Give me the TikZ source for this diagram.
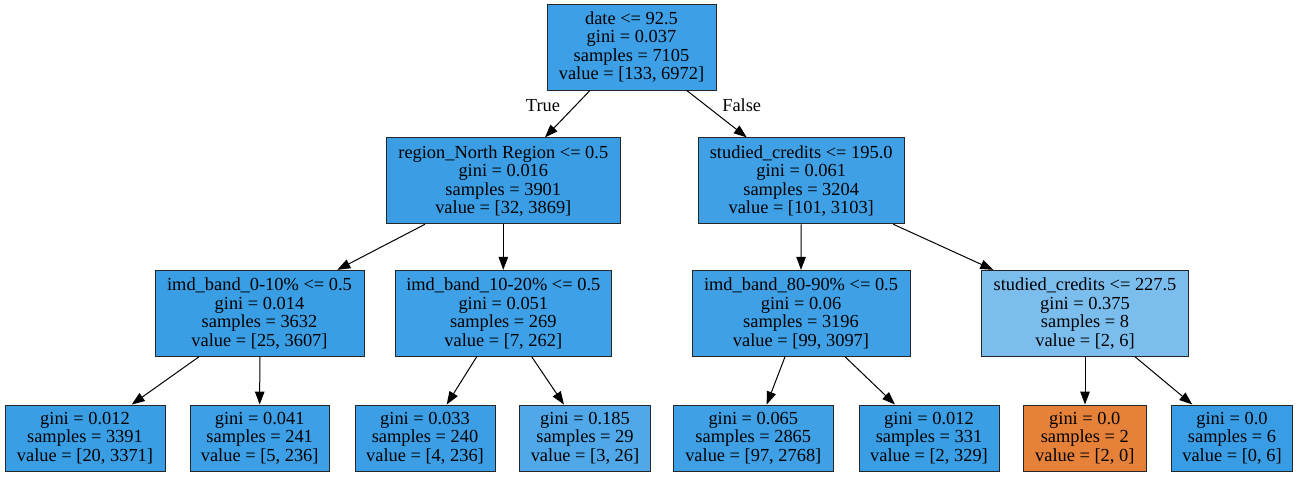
\documentclass[tikz,border=0pt]{standalone}
\usepackage{fontspec}
\setmainfont{Liberation Serif}
\usetikzlibrary{arrows.meta}

% fill colours of the tree nodes (class purity shading)
\definecolor{nA}{RGB}{61,159,230}
\definecolor{nB}{RGB}{59,158,229}
\definecolor{nC}{RGB}{63,160,230}
\definecolor{nD}{RGB}{58,158,229}
\definecolor{nE}{RGB}{62,160,230}
\definecolor{nF}{RGB}{123,190,238}
\definecolor{nG}{RGB}{61,159,230}
\definecolor{nH}{RGB}{60,159,229}
\definecolor{nI}{RGB}{80,168,232}
\definecolor{nJ}{RGB}{64,160,230}
\definecolor{nK}{RGB}{229,129,57}
\definecolor{nL}{RGB}{57,157,229}

\begin{document}
\begin{tikzpicture}[x=1pt,y=-1pt,
  treebox/.style={draw=black!85, line width=0.9pt, inner sep=0pt, align=center,
    font=\fontsize{18.4}{18.5}\selectfont},
  split/.style={treebox, minimum height=86pt},
  leafbox/.style={treebox, minimum height=66pt},
  edge/.style={line width=1pt, -{Triangle[length=13pt,width=9.5pt]}},
  elabel/.style={font=\fontsize{18.4}{18.5}\selectfont, inner sep=0pt}]
\useasboundingbox (0,0) rectangle (1298,477);

% split nodes
\node[split, fill=nA, minimum width=169pt] (root) at (631.5,47)
  {date <= 92.5\\gini = 0.037\\samples = 7105\\value = [133, 6972]};
\node[split, fill=nB, minimum width=233.3pt] (nreg) at (503.3,180.8)
  {region\_North Region <= 0.5\\gini = 0.016\\samples = 3901\\value = [32, 3869]};
\node[split, fill=nC, minimum width=206.3pt] (cred) at (801.2,180.8)
  {studied\_credits <= 195.0\\gini = 0.061\\samples = 3204\\value = [101, 3103]};
\node[split, fill=nD, minimum width=209pt] (imdA) at (259.5,313.3)
  {imd\_band\_0-10\% <= 0.5\\gini = 0.014\\samples = 3632\\value = [25, 3607]};
\node[split, fill=nE, minimum width=216.6pt] (imdB) at (503.3,313.3)
  {imd\_band\_10-20\% <= 0.5\\gini = 0.051\\samples = 269\\value = [7, 262]};
\node[split, fill=nC, minimum width=218pt] (imdC) at (801,313.3)
  {imd\_band\_80-90\% <= 0.5\\gini = 0.06\\samples = 3196\\value = [99, 3097]};
\node[split, fill=nF, minimum width=206.6pt] (credB) at (1085,313.3)
  {studied\_credits <= 227.5\\gini = 0.375\\samples = 8\\value = [2, 6]};

% leaves
\node[leafbox, fill=nD, minimum width=160pt] (lfA) at (85,438)
  {gini = 0.012\\samples = 3391\\value = [20, 3371]};
\node[leafbox, fill=nG, minimum width=139.3pt] (lfB) at (259.7,438)
  {gini = 0.041\\samples = 241\\value = [5, 236]};
\node[leafbox, fill=nH, minimum width=140pt] (lfC) at (425,438)
  {gini = 0.033\\samples = 240\\value = [4, 236]};
\node[leafbox, fill=nI, minimum width=131.4pt] (lfD) at (585,438)
  {gini = 0.185\\samples = 29\\value = [3, 26]};
\node[leafbox, fill=nJ, minimum width=160pt] (lfE) at (753.3,438)
  {gini = 0.065\\samples = 2865\\value = [97, 2768]};
\node[leafbox, fill=nD, minimum width=140pt] (lfF) at (929,438)
  {gini = 0.012\\samples = 331\\value = [2, 329]};
\node[leafbox, fill=nK, minimum width=122.3pt] (lfG) at (1084.8,438)
  {gini = 0.0\\samples = 2\\value = [2, 0]};
\node[leafbox, fill=nL, minimum width=121pt] (lfH) at (1232,438)
  {gini = 0.0\\samples = 6\\value = [0, 6]};

% connectors
\draw[edge] ([xshift=-41.5pt]root.south) -- ([xshift=41.7pt]nreg.north);
\draw[edge] ([xshift=55.2pt]root.south) -- ([xshift=-54.5pt]cred.north);
\draw[edge] ([xshift=-78.3pt]nreg.south) -- ([xshift=77.8pt]imdA.north);
\draw[edge] (nreg.south) -- (imdB.north);
\draw[edge] (cred.south) -- (imdC.north);
\draw[edge] ([xshift=92.1pt]cred.south) -- ([xshift=-91.7pt]credB.north);
\draw[edge] ([xshift=-60.5pt]imdA.south) -- ([xshift=46.7pt]lfA.north);
\draw[edge] ([xshift=0.3pt]imdA.south) -- (lfB.north);
\draw[edge] ([xshift=-26.6pt]imdB.south) -- ([xshift=21.7pt]lfC.north);
\draw[edge] ([xshift=28.4pt]imdB.south) -- ([xshift=-21pt]lfD.north);
\draw[edge] ([xshift=-16pt]imdC.south) -- ([xshift=13.4pt]lfE.north);
\draw[edge] ([xshift=44pt]imdC.south) -- ([xshift=-34pt]lfF.north);
\draw[edge] (credB.south) -- ([xshift=0.2pt]lfG.north);
\draw[edge] ([xshift=50pt]credB.south) -- ([xshift=-39.7pt]lfH.north);

% branch labels
\node[elabel] (tlab) at (543,105.7) {True};
\node[elabel] (flab) at (741.7,105.7) {False};
\end{tikzpicture}
\end{document}
